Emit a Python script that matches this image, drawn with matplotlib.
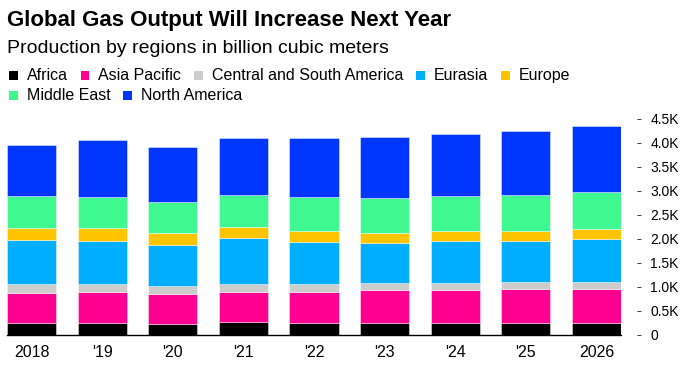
import matplotlib
matplotlib.use('Agg')
import matplotlib.pyplot as plt
from matplotlib.patches import Rectangle
import numpy as np

plt.rcParams['font.family'] = ['Liberation Sans', 'DejaVu Sans']

years = ['2018', "'19", "'20", "'21", "'22", "'23", "'24", "'25", '2026']
regions = ['Africa', 'Asia Pacific', 'Central and South America', 'Eurasia',
           'Europe', 'Middle East', 'North America']
africa = [243, 243, 236, 264, 243, 257, 243, 243, 243]
asia_pacific = [631, 645, 624, 638, 659, 672, 693, 707, 707]
central_south_america = [180, 166, 152, 166, 166, 153, 153, 146, 160]
eurasia = [922, 909, 867, 943, 860, 825, 860, 867, 880]
europe = [250, 256, 236, 236, 236, 215, 215, 208, 215]
middle_east = [666, 666, 666, 679, 707, 728, 735, 755, 777]
north_america = [1061, 1179, 1144, 1179, 1241, 1283, 1283, 1325, 1366]
colors = ['#000000', '#ff0090', '#cccccc', '#00aeff', '#ffc400', '#40f890', '#0036ff']
ytick_values = [0, 500, 1000, 1500, 2000, 2500, 3000, 3500, 4000, 4500]
ytick_labels = ['0', '0.5K', '1.0K', '1.5K', '2.0K', '2.5K', '3.0K', '3.5K', '4.0K', '4.5K']

series = [africa, asia_pacific, central_south_america, eurasia, europe,
          middle_east, north_america]

W, H = 689, 368
fig = plt.figure(figsize=(W / 100, H / 100), dpi=100)
ax = fig.add_axes([7 / W, 33 / H, 614 / W, 216 / H])

x = np.arange(len(years))
bottom = np.zeros(len(years))
bw = 0.694
for name, vals, c in zip(regions, series, colors):
    vals = np.array(vals, dtype=float)
    ax.bar(x, vals, bw, bottom=bottom, color=c, edgecolor=(1, 1, 1, 0.5),
           linewidth=0.6, label=name, zorder=2)
    bottom += vals

ax.set_xlim(-bw / 2, len(years) - 1 + bw / 2)
ax.set_ylim(0, 4500)
ax.set_xticks(x)
ax.set_xticklabels(years, fontsize=11.5)
ax.tick_params(axis='x', length=0, pad=7, colors='black')
ax.yaxis.tick_right()
ax.set_yticks(ytick_values)
ax.set_yticklabels(ytick_labels, fontsize=11.5)
ax.tick_params(axis='y', length=3, width=0.8, color='#444444', pad=6.5, labelcolor='black')
ax.spines['right'].set_position(('outward', 11.5))
ax.spines['right'].set_visible(False)
ax.spines['top'].set_visible(False)
ax.spines['left'].set_visible(False)
ax.spines['bottom'].set_linewidth(1.0)
ax.spines['bottom'].set_color('black')

def fx(px):
    return px / W

def fy(py):
    return 1 - py / H

fig.text(fx(7), fy(26), 'Global Gas Output Will Increase Next Year', fontsize=16,
         fontweight='bold', va='baseline', ha='left')
fig.text(fx(7), fy(53), 'Production by regions in billion cubic meters', fontsize=14,
         va='baseline', ha='left')

# Legend, laid out in flowing rows
renderer = fig.canvas.get_renderer()
rows = [[0, 1, 2, 3, 4], [5, 6]]
row_base = [80.3, 100.3]
for r, idxs in enumerate(rows):
    cx = 9
    for i in idxs:
        sq = Rectangle((fx(cx), fy(row_base[r] - 0.5)), 8.5 / W, 8.5 / H,
                       transform=fig.transFigure, color=colors[i], lw=0)
        fig.patches.append(sq)
        t = fig.text(fx(cx + 17.7), fy(row_base[r]), regions[i], fontsize=11.5,
                     va='baseline', ha='left')
        wpx = t.get_window_extent(renderer).width
        cx = cx + 17.7 + wpx + 13

fig.savefig('out.png', dpi=100)
